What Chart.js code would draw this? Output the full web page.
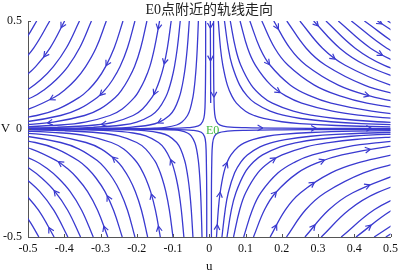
<!DOCTYPE html>
<html>
<head>
<meta charset="utf-8">
<script src="https://cdn.jsdelivr.net/npm/chart.js@4.4.0/dist/chart.umd.min.js"></script>
<style>
  html, body { margin: 0; padding: 0; background: #fff; }
</style>
</head>
<body>
<canvas id="phase" width="403" height="274"></canvas>
<script>
// axis ticks
const uTicks = [-0.5, -0.4, -0.3, -0.2, -0.1, 0, 0.1, 0.2, 0.3, 0.4, 0.5];
const vTicks = [-0.5, 0, 0.5];

// streamlines, each listed in the flow direction [u, v]
const upperLeft = [
  [[-0.476,0.5],[-0.5,0.432],[-0.524,0.376]],
  [[-0.44,0.5],[-0.484,0.376],[-0.528,0.289]],
  [[-0.399,0.5],[-0.439,0.376],[-0.479,0.289],[-0.519,0.228]],
  [[-0.358,0.5],[-0.394,0.376],[-0.43,0.289],[-0.465,0.228],[-0.501,0.182],[-0.537,0.148]],
  [[-0.325,0.5],[-0.3575,0.376],[-0.39,0.289],[-0.4225,0.228],[-0.455,0.182],[-0.4875,0.148],[-0.569,0.093]],
  [[-0.284,0.5],[-0.312,0.376],[-0.341,0.289],[-0.369,0.228],[-0.398,0.182],[-0.426,0.148],[-0.497,0.093],[-0.568,0.0625]],
  [[-0.238,0.5],[-0.262,0.376],[-0.286,0.289],[-0.309,0.228],[-0.333,0.182],[-0.357,0.148],[-0.4165,0.093],[-0.476,0.0625],[-0.595,0.032]],
  [[-0.205,0.5],[-0.2255,0.376],[-0.246,0.289],[-0.2665,0.228],[-0.287,0.182],[-0.3075,0.148],[-0.359,0.093],[-0.41,0.0625],[-0.5125,0.032],[-0.615,0.0185]],
  [[-0.172,0.5],[-0.189,0.376],[-0.206,0.289],[-0.224,0.228],[-0.241,0.182],[-0.258,0.148],[-0.301,0.093],[-0.344,0.0625],[-0.43,0.032],[-0.516,0.0185]],
  [[-0.137,0.5],[-0.151,0.376],[-0.164,0.289],[-0.178,0.228],[-0.192,0.182],[-0.2055,0.148],[-0.24,0.093],[-0.274,0.0625],[-0.3425,0.032],[-0.411,0.0185],[-0.548,0.0078]],
  [[-0.105,0.5],[-0.1155,0.376],[-0.126,0.289],[-0.1365,0.228],[-0.147,0.182],[-0.1575,0.148],[-0.184,0.093],[-0.21,0.0625],[-0.2625,0.032],[-0.315,0.0185],[-0.42,0.0078],[-0.525,0.004]],
  [[-0.08,0.5],[-0.088,0.376],[-0.096,0.289],[-0.104,0.228],[-0.112,0.182],[-0.12,0.148],[-0.14,0.093],[-0.16,0.0625],[-0.2,0.032],[-0.24,0.0185],[-0.32,0.0078],[-0.4,0.004],[-0.56,0.0015]],
  [[-0.055,0.5],[-0.0605,0.376],[-0.066,0.289],[-0.0715,0.228],[-0.077,0.182],[-0.0825,0.148],[-0.096,0.093],[-0.11,0.0625],[-0.1375,0.032],[-0.165,0.0185],[-0.22,0.0078],[-0.275,0.004],[-0.385,0.0015],[-0.55,0.0005]],
  [[-0.03,0.5],[-0.033,0.376],[-0.036,0.289],[-0.039,0.228],[-0.042,0.182],[-0.045,0.148],[-0.0525,0.093],[-0.06,0.0625],[-0.075,0.032],[-0.09,0.0185],[-0.12,0.0078],[-0.15,0.004],[-0.21,0.0015],[-0.3,0.0005],[-0.5,0.0001]],
  [[-0.01,0.5],[-0.01,0.3],[-0.011,0.15],[-0.013,0.07],[-0.018,0.035],[-0.03,0.014],[-0.06,0.006],[-0.12,0.003],[-0.25,0.0015],[-0.55,0.001]]
];

const upperRight = [
  [[0.492,0.5],[0.615,0.374]],
  [[0.464,0.5],[0.58,0.374]],
  [[0.428,0.5],[0.535,0.374],[0.642,0.295]],
  [[0.392,0.5],[0.49,0.374],[0.588,0.295]],
  [[0.356,0.5],[0.445,0.374],[0.534,0.295]],
  [[0.322,0.5],[0.4025,0.374],[0.483,0.295],[0.644,0.203]],
  [[0.288,0.5],[0.36,0.374],[0.432,0.295],[0.576,0.203]],
  [[0.25,0.5],[0.3125,0.374],[0.375,0.295],[0.5,0.203],[0.625,0.152]],
  [[0.214,0.5],[0.2675,0.374],[0.321,0.295],[0.428,0.203],[0.535,0.152]],
  [[0.178,0.5],[0.2225,0.374],[0.267,0.295],[0.356,0.203],[0.445,0.152],[0.534,0.12]],
  [[0.145,0.5],[0.181,0.374],[0.2175,0.295],[0.29,0.203],[0.3625,0.152],[0.435,0.12],[0.58,0.0825]],
  [[0.112,0.5],[0.14,0.374],[0.168,0.295],[0.224,0.203],[0.28,0.152],[0.336,0.12],[0.448,0.0825],[0.56,0.0617]],
  [[0.085,0.5],[0.106,0.374],[0.1275,0.295],[0.17,0.203],[0.2125,0.152],[0.255,0.12],[0.34,0.0825],[0.425,0.0617],[0.51,0.0487]],
  [[0.058,0.5],[0.0725,0.374],[0.087,0.295],[0.116,0.203],[0.145,0.152],[0.174,0.12],[0.232,0.0825],[0.29,0.0617],[0.348,0.0487],[0.464,0.0335],[0.58,0.025]],
  [[0.042,0.5],[0.0525,0.374],[0.063,0.295],[0.084,0.203],[0.105,0.152],[0.126,0.12],[0.168,0.0825],[0.21,0.0617],[0.252,0.0487],[0.336,0.0335],[0.42,0.025],[0.588,0.0162]],
  [[0.025,0.5],[0.031,0.374],[0.0375,0.295],[0.05,0.203],[0.0625,0.152],[0.075,0.12],[0.1,0.0825],[0.125,0.0617],[0.15,0.0487],[0.2,0.0335],[0.25,0.025],[0.35,0.0162],[0.5,0.0102]],
  [[0.012,0.5],[0.012,0.3],[0.013,0.15],[0.015,0.07],[0.02,0.035],[0.03,0.018],[0.05,0.01],[0.1,0.006],[0.2,0.004],[0.35,0.003],[0.55,0.0025]],
  [[0.003,0.5],[0.004,0.12]]
];

const lowerLeft = [
  [[-0.47,-0.5],[-0.4935,-0.432],[-0.517,-0.376]],
  [[-0.428,-0.5],[-0.471,-0.376],[-0.514,-0.289]],
  [[-0.39,-0.5],[-0.429,-0.376],[-0.468,-0.289],[-0.507,-0.228]],
  [[-0.355,-0.5],[-0.3905,-0.376],[-0.426,-0.289],[-0.4615,-0.228],[-0.497,-0.182],[-0.5325,-0.148]],
  [[-0.32,-0.5],[-0.352,-0.376],[-0.384,-0.289],[-0.416,-0.228],[-0.448,-0.182],[-0.48,-0.148],[-0.56,-0.093]],
  [[-0.28,-0.5],[-0.308,-0.376],[-0.336,-0.289],[-0.364,-0.228],[-0.392,-0.182],[-0.42,-0.148],[-0.49,-0.093],[-0.56,-0.0625]],
  [[-0.24,-0.5],[-0.264,-0.376],[-0.288,-0.289],[-0.312,-0.228],[-0.336,-0.182],[-0.36,-0.148],[-0.42,-0.093],[-0.48,-0.0625],[-0.6,-0.032]],
  [[-0.205,-0.5],[-0.2255,-0.376],[-0.246,-0.289],[-0.2665,-0.228],[-0.287,-0.182],[-0.3075,-0.148],[-0.359,-0.093],[-0.41,-0.0625],[-0.5125,-0.032],[-0.615,-0.0185]],
  [[-0.17,-0.5],[-0.187,-0.376],[-0.204,-0.289],[-0.221,-0.228],[-0.238,-0.182],[-0.255,-0.148],[-0.2975,-0.093],[-0.34,-0.0625],[-0.425,-0.032],[-0.51,-0.0185]],
  [[-0.135,-0.5],[-0.1485,-0.376],[-0.162,-0.289],[-0.1755,-0.228],[-0.189,-0.182],[-0.2025,-0.148],[-0.236,-0.093],[-0.27,-0.0625],[-0.3375,-0.032],[-0.405,-0.0185],[-0.54,-0.0078]],
  [[-0.1,-0.5],[-0.11,-0.376],[-0.12,-0.289],[-0.13,-0.228],[-0.14,-0.182],[-0.15,-0.148],[-0.175,-0.093],[-0.2,-0.0625],[-0.25,-0.032],[-0.3,-0.0185],[-0.4,-0.0078],[-0.5,-0.004]],
  [[-0.07,-0.5],[-0.077,-0.376],[-0.084,-0.289],[-0.091,-0.228],[-0.098,-0.182],[-0.105,-0.148],[-0.1225,-0.093],[-0.14,-0.0625],[-0.175,-0.032],[-0.21,-0.0185],[-0.28,-0.0078],[-0.35,-0.004],[-0.49,-0.0015],[-0.7,-0.0005]],
  [[-0.045,-0.5],[-0.0495,-0.376],[-0.054,-0.289],[-0.0585,-0.228],[-0.063,-0.182],[-0.0675,-0.148],[-0.079,-0.093],[-0.09,-0.0625],[-0.1125,-0.032],[-0.135,-0.0185],[-0.18,-0.0078],[-0.225,-0.004],[-0.315,-0.0015],[-0.45,-0.0005]],
  [[-0.02,-0.5],[-0.022,-0.376],[-0.024,-0.289],[-0.026,-0.228],[-0.028,-0.182],[-0.03,-0.148],[-0.035,-0.093],[-0.04,-0.0625],[-0.05,-0.032],[-0.06,-0.0185],[-0.08,-0.0078],[-0.1,-0.004],[-0.14,-0.0015],[-0.2,-0.0005],[-0.5,-0.0001]],
  [[-0.007,-0.5],[-0.007,-0.3],[-0.008,-0.15],[-0.0095,-0.07],[-0.013,-0.035],[-0.022,-0.015],[-0.045,-0.006],[-0.1,-0.0025],[-0.25,-0.001],[-0.55,-0.0005]]
];

const lowerRight = [
  [[0.487,-0.5],[0.609,-0.374]],
  [[0.455,-0.5],[0.569,-0.374]],
  [[0.405,-0.5],[0.506,-0.374],[0.6075,-0.295]],
  [[0.364,-0.5],[0.455,-0.374],[0.546,-0.295]],
  [[0.309,-0.5],[0.386,-0.374],[0.4635,-0.295],[0.618,-0.203]],
  [[0.264,-0.5],[0.33,-0.374],[0.396,-0.295],[0.528,-0.203]],
  [[0.213,-0.5],[0.266,-0.374],[0.3195,-0.295],[0.426,-0.203],[0.5325,-0.152]],
  [[0.168,-0.5],[0.21,-0.374],[0.252,-0.295],[0.336,-0.203],[0.42,-0.152],[0.504,-0.12]],
  [[0.122,-0.5],[0.1525,-0.374],[0.183,-0.295],[0.244,-0.203],[0.305,-0.152],[0.366,-0.12],[0.488,-0.0825],[0.61,-0.0617]],
  [[0.095,-0.5],[0.119,-0.374],[0.1425,-0.295],[0.19,-0.203],[0.2375,-0.152],[0.285,-0.12],[0.38,-0.0825],[0.475,-0.0617],[0.57,-0.0487]],
  [[0.067,-0.5],[0.084,-0.374],[0.1005,-0.295],[0.134,-0.203],[0.1675,-0.152],[0.201,-0.12],[0.268,-0.0825],[0.335,-0.0617],[0.402,-0.0487],[0.536,-0.0335]],
  [[0.049,-0.5],[0.061,-0.374],[0.0735,-0.295],[0.098,-0.203],[0.1225,-0.152],[0.147,-0.12],[0.196,-0.0825],[0.245,-0.0617],[0.294,-0.0487],[0.392,-0.0335],[0.49,-0.025],[0.686,-0.0162]],
  [[0.035,-0.5],[0.044,-0.374],[0.0525,-0.295],[0.07,-0.203],[0.0875,-0.152],[0.105,-0.12],[0.14,-0.0825],[0.175,-0.0617],[0.21,-0.0487],[0.28,-0.0335],[0.35,-0.025],[0.49,-0.0162],[0.7,-0.0102]],
  [[0.02,-0.5],[0.025,-0.374],[0.03,-0.295],[0.04,-0.203],[0.05,-0.152],[0.06,-0.12],[0.08,-0.0825],[0.1,-0.0617],[0.12,-0.0487],[0.16,-0.0335],[0.2,-0.025],[0.28,-0.0162],[0.4,-0.0102],[0.6,-0.006]],
  [[0.006,-0.5],[0.006,-0.3],[0.007,-0.15],[0.009,-0.07],[0.014,-0.035],[0.025,-0.018],[0.05,-0.01],[0.1,-0.006],[0.2,-0.004],[0.35,-0.003],[0.55,-0.0025]]
];

// where the little arrow heads sit [u, v]
const arrowSpots = [
  [-0.396,0.469],[-0.446,0.338],[-0.286,0.307],[-0.442,0.161],[-0.295,0.161],[-0.442,0.032],[-0.291,0.032],
  [-0.135,0.469],[-0.125,0.315],[-0.139,0.161],[-0.139,0.045],
  [0.002,0.469],[0.181,0.465],[0.295,0.481],[0.467,0.491],[0.007,0.323],[0.168,0.3125],[0.336,0.3125],[0.467,0.336],
  [0.0115,0.162],[0.188,0.171],[0.437,0.171],[0.14,0.006],[0.291,0.005],[0.442,0.005],
  [-0.408,-0.153],[-0.271,-0.153],[-0.111,-0.157],[-0.434,-0.308],[-0.265,-0.308],[-0.151,-0.308],
  [-0.432,-0.458],[-0.281,-0.458],[-0.127,-0.458],
  [0.035,-0.157],[0.185,-0.157],[0.314,-0.153],[0.44,-0.104],[0.039,-0.308],[0.183,-0.301],[0.291,-0.262],[0.44,-0.278],
  [0.026,-0.454],[0.179,-0.454],[0.284,-0.449],[0.44,-0.451]
];

const LINE = "rgb(58,58,208)";
const AXIS = "#555";
const SERIF = '"Liberation Serif", "Times New Roman", serif';

const allCurves = [...upperLeft, ...upperRight, ...lowerLeft, ...lowerRight];

function nearestOnCurves(chart, px, py) {
  let best = null;
  chart.data.datasets.forEach((ds, i) => {
    const pts = chart.getDatasetMeta(i).data;
    for (let k = 0; k < pts.length - 1; k++) {
      const a = pts[k], b = pts[k + 1];
      const x0 = a.x, y0 = a.y, x3 = b.x, y3 = b.y;
      const x1 = a.cp2x ?? x0, y1 = a.cp2y ?? y0;
      const x2 = b.cp1x ?? x3, y2 = b.cp1y ?? y3;
      for (let s = 0; s <= 20; s++) {
        const t = s / 20, mt = 1 - t;
        const bx = mt*mt*mt*x0 + 3*mt*mt*t*x1 + 3*mt*t*t*x2 + t*t*t*x3;
        const by = mt*mt*mt*y0 + 3*mt*mt*t*y1 + 3*mt*t*t*y2 + t*t*t*y3;
        let dx = 3*mt*mt*(x1-x0) + 6*mt*t*(x2-x1) + 3*t*t*(x3-x2);
        let dy = 3*mt*mt*(y1-y0) + 6*mt*t*(y2-y1) + 3*t*t*(y3-y2);
        if (Math.hypot(dx, dy) < 1e-6) { dx = x3 - x0; dy = y3 - y0; }
        const d = (bx-px)*(bx-px) + (by-py)*(by-py);
        if (!best || d < best.d) best = { d, x: bx, y: by, dx, dy };
      }
    }
  });
  return best;
}

const arrowPlugin = {
  id: "arrowHeads",
  afterDatasetsDraw(chart) {
    const { ctx, chartArea: area, scales: { x, y } } = chart;
    ctx.save();
    ctx.beginPath();
    ctx.rect(area.left, area.top, area.right - area.left, area.bottom - area.top);
    ctx.clip();
    ctx.strokeStyle = LINE;
    ctx.lineWidth = 1.2;
    ctx.beginPath();
    arrowSpots.forEach(([u, v]) => {
      const hit = nearestOnCurves(chart, x.getPixelForValue(u), y.getPixelForValue(v));
      if (!hit) return;
      const len = Math.hypot(hit.dx, hit.dy) || 1;
      const ux = hit.dx / len, uy = hit.dy / len;
      const tx = hit.x + ux * 2.5, ty = hit.y + uy * 2.5;
      [0.5, -0.5].forEach(a => {
        const c = Math.cos(a), s = Math.sin(a);
        const bx = -(ux * c - uy * s), by = -(ux * s + uy * c);
        ctx.moveTo(tx + bx * 6, ty + by * 6);
        ctx.lineTo(tx, ty);
      });
    });
    ctx.stroke();
    ctx.restore();
  }
};

const labelPlugin = {
  id: "labels",
  afterDraw(chart) {
    const { ctx, chartArea: area, scales: { x, y } } = chart;
    ctx.save();
    // inner tick marks
    ctx.strokeStyle = AXIS;
    ctx.lineWidth = 1;
    ctx.beginPath();
    uTicks.forEach(u => {
      const px = Math.round(x.getPixelForValue(u)) + 0.5;
      ctx.moveTo(px, area.bottom);
      ctx.lineTo(px, area.bottom - 3);
    });
    vTicks.forEach(v => {
      const py = Math.round(y.getPixelForValue(v)) + 0.5;
      ctx.moveTo(area.left, py);
      ctx.lineTo(area.left + 3, py);
    });
    ctx.stroke();
    // V label, horizontal like the original
    ctx.fillStyle = "#111";
    ctx.font = "13px " + SERIF;
    ctx.textAlign = "center";
    ctx.textBaseline = "middle";
    ctx.fillText("V", 5.5, y.getPixelForValue(0));
    // equilibrium label
    ctx.fillStyle = "#3fb83f";
    ctx.font = "12px " + SERIF;
    ctx.textAlign = "left";
    ctx.fillText("E0", x.getPixelForValue(-0.009), y.getPixelForValue(-0.007));
    ctx.restore();
  }
};

const tickFmt = v => String(+Number(v).toFixed(1));

new Chart(document.getElementById("phase"), {
  type: "scatter",
  data: {
    datasets: allCurves.map(c => ({
      data: c.map(p => ({ x: p[0], y: p[1] })),
      showLine: true,
      borderColor: LINE,
      borderWidth: 1.3,
      pointRadius: 0,
      pointHoverRadius: 0,
      tension: 0.4,
      fill: false,
      clip: 0
    }))
  },
  options: {
    responsive: false,
    animation: false,
    devicePixelRatio: 1,
    events: [],
    layout: { padding: { top: 0, right: 10, bottom: 0, left: 0 } },
    elements: { line: { capBezierPoints: false } },
    plugins: {
      legend: { display: false },
      tooltip: { enabled: false },
      title: {
        display: true,
        text: "E0点附近的轨线走向",
        fullSize: false,
        color: "#222",
        font: { family: '"Liberation Serif", "Noto Sans CJK SC", serif', size: 14, weight: "normal", lineHeight: 1.2 },
        padding: { top: 2, bottom: 2.2 }
      }
    },
    scales: {
      x: {
        type: "linear",
        min: -0.5,
        max: 0.5,
        afterBuildTicks: s => { s.ticks = uTicks.map(value => ({ value })); },
        afterFit: s => { s.height = 37; },
        ticks: { font: { family: SERIF, size: 12 }, color: "#111", padding: 5, maxRotation: 0, autoSkip: false, callback: tickFmt },
        grid: { display: false, drawTicks: false },
        border: { display: true, color: AXIS, width: 1 },
        title: { display: true, text: "u", color: "#111", font: { family: SERIF, size: 13, lineHeight: 1.2 }, padding: { top: 0, bottom: 0 } }
      },
      y: {
        type: "linear",
        min: -0.5,
        max: 0.5,
        afterBuildTicks: s => { s.ticks = vTicks.map(value => ({ value })); },
        afterFit: s => { s.width = 28; },
        ticks: { font: { family: SERIF, size: 12 }, color: "#111", padding: 6, autoSkip: false, callback: tickFmt },
        grid: { display: false, drawTicks: false },
        border: { display: true, color: AXIS, width: 1 }
      }
    }
  },
  plugins: [arrowPlugin, labelPlugin]
});
</script>
</body>
</html>
